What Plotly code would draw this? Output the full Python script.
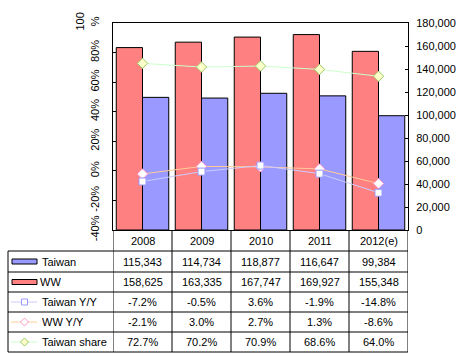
import plotly.graph_objects as go

years = ["2008", "2009", "2010", "2011", "2012(e)"]
taiwan = [115343, 114734, 118877, 116647, 99384]
ww = [158625, 163335, 167747, 169927, 155348]
taiwan_yy = [-7.2, -0.5, 3.6, -1.9, -14.8]
ww_yy = [-2.1, 3.0, 2.7, 1.3, -8.6]
taiwan_share = [72.7, 70.2, 70.9, 68.6, 64.0]

pct_ticks = [-40, -20, 0, 20, 40, 60, 80, 100]
pct_ticktext = ["-40%", "-20%", "0%", "20%", "40%", "60%", "80%", "100<br>%"]
num_ticks = list(range(0, 180001, 20000))

FONT = "Liberation Sans, Arial, sans-serif"
RED = "#FF8080"
BLUE = "#9999FF"

# plot area in pixels
L, R, T, B = 113, 408, 23, 230
W, H = 463, 358
PW, PH = R - L, B - T


def xp(px):
    return (px - L) / PW


def yp(py):
    return (B - py) / PH


idx = list(range(len(years)))

fig = go.Figure()
fig.add_trace(go.Bar(x=idx, y=ww, name="WW", marker=dict(color=RED, line=dict(color="black", width=1)), yaxis="y"))
fig.add_trace(go.Bar(x=idx, y=taiwan, name="Taiwan", marker=dict(color=BLUE, line=dict(color="black", width=1)), yaxis="y"))
fig.add_trace(go.Scatter(x=idx, y=taiwan_share, mode="lines+markers", yaxis="y2",
                         line=dict(color="#CCFFCC", width=1),
                         marker=dict(symbol="diamond", size=8, color="#FFFFCC", line=dict(color="#99CC66", width=1))))
fig.add_trace(go.Scatter(x=idx, y=ww_yy, mode="lines+markers", yaxis="y2",
                         line=dict(color="#FFCC99", width=1),
                         marker=dict(symbol="diamond", size=8, color="white", line=dict(color="#FF99CC", width=1))))
fig.add_trace(go.Scatter(x=idx, y=taiwan_yy, mode="lines+markers", yaxis="y2",
                         line=dict(color="#CCCCFF", width=1),
                         marker=dict(symbol="square", size=7, color="white", line=dict(color="#9999FF", width=1))))

shapes = []
annotations = []
line = dict(color="black", width=1)

# horizontal table lines
row_lines = [251, 272, 292, 312, 332, 352]
for py in row_lines:
    shapes.append(dict(type="line", xref="paper", yref="paper", x0=xp(8), x1=1, y0=yp(py), y1=yp(py), line=line))
# vertical lines
for i in range(len(years) + 1):
    shapes.append(dict(type="line", xref="x", yref="paper", x0=i - 0.5, x1=i - 0.5, y0=0, y1=yp(352), line=line))
shapes.append(dict(type="line", xref="paper", yref="paper", x0=xp(8), x1=xp(8), y0=yp(251), y1=yp(352), line=line))

# year row
for i, yr in enumerate(years):
    annotations.append(dict(x=i, y=yp(240.5), xref="x", yref="paper", text=yr, showarrow=False,
                            xanchor="center", yanchor="middle", font=dict(size=11, family=FONT, color="black")))

row_centers = [261.5, 282, 302, 322, 342]
row_labels = ["Taiwan", "WW", "Taiwan Y/Y", "WW Y/Y", "Taiwan share"]
row_texts = [
    [f"{v:,}" for v in taiwan],
    [f"{v:,}" for v in ww],
    [f"{v:.1f}%" for v in taiwan_yy],
    [f"{v:.1f}%" for v in ww_yy],
    [f"{v:.1f}%" for v in taiwan_share],
]
label_x = [40, 37.5, 40, 40, 40]
for r, (cy, lab, texts) in enumerate(zip(row_centers, row_labels, row_texts)):
    annotations.append(dict(x=xp(label_x[r]), y=yp(cy), xref="paper", yref="paper", text=lab, showarrow=False,
                            xanchor="left", yanchor="middle", font=dict(size=11, family=FONT, color="black")))
    for i, t in enumerate(texts):
        annotations.append(dict(x=i, y=yp(cy), xref="x", yref="paper", text=t, showarrow=False,
                                xanchor="center", yanchor="middle", font=dict(size=11, family=FONT, color="black")))

# legend keys
def rect_key(cy, color):
    shapes.append(dict(type="rect", xref="paper", yref="paper", x0=xp(12), x1=xp(37),
                       y0=yp(cy + 2.5), y1=yp(cy - 2.5), fillcolor=color, line=dict(color="black", width=1)))


def line_key(cy, lcolor, mfill, mline, sym):
    shapes.append(dict(type="line", xref="paper", yref="paper", x0=xp(11), x1=xp(37),
                       y0=yp(cy), y1=yp(cy), line=dict(color=lcolor, width=1)))
    cx = 24.5
    if sym == "square":
        shapes.append(dict(type="rect", xref="paper", yref="paper", x0=xp(cx - 3), x1=xp(cx + 3),
                           y0=yp(cy + 3), y1=yp(cy - 3), fillcolor=mfill, line=dict(color=mline, width=1)))
    else:
        pts = [(cx, cy - 4), (cx + 4, cy), (cx, cy + 4), (cx - 4, cy)]
        path = "M " + " L ".join(f"{xp(a)},{yp(b)}" for a, b in pts) + " Z"
        shapes.append(dict(type="path", xref="paper", yref="paper", path=path,
                           fillcolor=mfill, line=dict(color=mline, width=1)))


rect_key(row_centers[0], BLUE)
rect_key(row_centers[1], RED)
line_key(row_centers[2], "#CCCCFF", "white", "#9999FF", "square")
line_key(row_centers[3], "#FFCC99", "white", "#FF99CC", "diamond")
line_key(row_centers[4], "#CCFFCC", "#FFFFCC", "#99CC66", "diamond")

fig.update_layout(
    width=W, height=H,
    margin=dict(l=L, r=W - R, t=T, b=H - B, pad=0),
    paper_bgcolor="white", plot_bgcolor="white",
    barmode="group", bargap=0.11, bargroupgap=0,
    showlegend=False,
    font=dict(family=FONT, size=11, color="black"),
    xaxis=dict(range=[-0.5, len(years) - 0.5], showticklabels=False, ticks="", showgrid=False, zeroline=False,
               showline=True, linecolor="black", linewidth=1, mirror=True),
    yaxis=dict(range=[0, 180000], side="right", tickvals=num_ticks, tickformat=",", showgrid=False, zeroline=False,
               showline=True, linecolor="black", linewidth=1, ticks="inside", ticklen=3, tickcolor="black",
               tickfont=dict(size=11, family=FONT), automargin=False, ticklabelstandoff=5),
    yaxis2=dict(range=[-40, 100], side="left", overlaying="y", tickvals=pct_ticks, ticktext=pct_ticktext,
                tickangle=-90, showgrid=False, zeroline=False, showline=True, linecolor="black", linewidth=1,
                ticks="inside", ticklen=3, tickcolor="black", tickfont=dict(size=11, family=FONT),
                automargin=False, ticklabelstandoff=9),
    shapes=shapes,
    annotations=annotations,
)

fig.write_html("out.html", config={"displayModeBar": False},
               post_script="document.body.style.margin='0';document.body.style.overflow='hidden';")
